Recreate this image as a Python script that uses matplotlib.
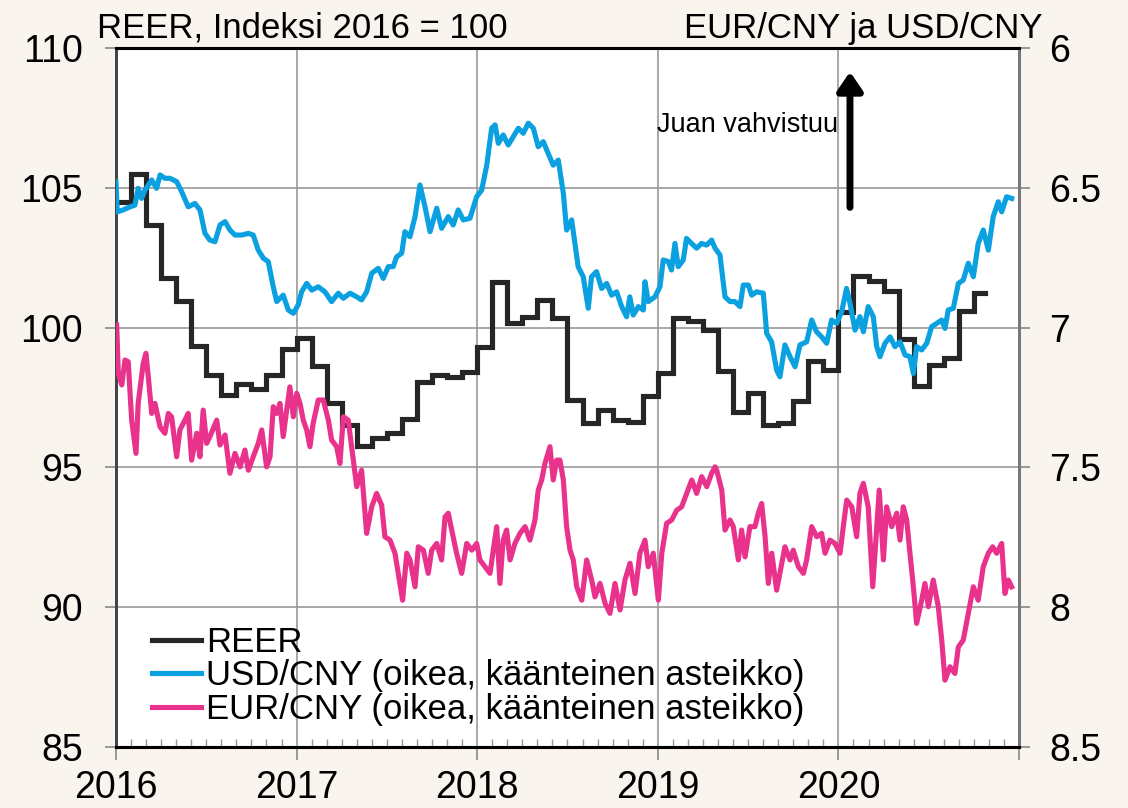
import numpy as np
import matplotlib
matplotlib.use('Agg')
import matplotlib.pyplot as plt

plt.rcParams['font.family'] = ['Liberation Sans', 'DejaVu Sans']

# REER, monthly, Jan 2016 .. Oct 2020 (index 2016 = 100)
reer = [104.5, 105.5, 103.67, 101.77, 100.96, 99.34, 98.30, 97.59, 97.98, 97.80, 98.30, 99.23,
        99.63, 98.64, 97.30, 96.52, 95.77, 96.05, 96.23, 96.73, 98.07, 98.30, 98.24, 98.41,
        99.32, 101.64, 100.15, 100.39, 100.99, 100.33, 97.41, 96.58, 97.07, 96.70, 96.64, 97.55,
        98.36, 100.33, 100.25, 99.91, 98.46, 96.99, 97.65, 96.52, 96.60, 97.38, 98.82, 98.48,
        100.57, 101.85, 101.68, 101.31, 99.58, 97.91, 98.66, 98.90, 100.59, 101.25]
reer_end = 2020.812

# USD/CNY (time in decimal years)
usd_t = [2016.000, 2016.007, 2016.040, 2016.078, 2016.105, 2016.123, 2016.142, 2016.161, 2016.198, 2016.225,
         2016.244, 2016.271, 2016.299, 2016.336, 2016.364, 2016.400, 2016.437, 2016.465, 2016.493, 2016.520,
         2016.548, 2016.576, 2016.604, 2016.631, 2016.659, 2016.696, 2016.733, 2016.760, 2016.788, 2016.816,
         2016.843, 2016.871, 2016.890, 2016.926, 2016.954, 2016.982, 2017.009, 2017.028, 2017.056, 2017.084,
         2017.120, 2017.157, 2017.194, 2017.231, 2017.259, 2017.296, 2017.333, 2017.360, 2017.388, 2017.416,
         2017.452, 2017.480, 2017.508, 2017.535, 2017.554, 2017.582, 2017.600, 2017.628, 2017.656, 2017.683,
         2017.711, 2017.739, 2017.776, 2017.803, 2017.840, 2017.867, 2017.895, 2017.923, 2017.960, 2017.997,
         2018.025, 2018.053, 2018.080, 2018.099, 2018.117, 2018.144, 2018.172, 2018.200, 2018.228, 2018.255,
         2018.283, 2018.311, 2018.338, 2018.366, 2018.393, 2018.421, 2018.449, 2018.477, 2018.495, 2018.523,
         2018.541, 2018.559, 2018.587, 2018.615, 2018.633, 2018.661, 2018.689, 2018.717, 2018.744, 2018.772,
         2018.800, 2018.827, 2018.845, 2018.864, 2018.892, 2018.920, 2018.929, 2018.947, 2018.984, 2019.012,
         2019.030, 2019.058, 2019.076, 2019.095, 2019.113, 2019.141, 2019.159, 2019.187, 2019.215, 2019.242,
         2019.270, 2019.298, 2019.317, 2019.344, 2019.372, 2019.400, 2019.427, 2019.455, 2019.473, 2019.501,
         2019.520, 2019.547, 2019.584, 2019.603, 2019.630, 2019.658, 2019.676, 2019.704, 2019.732, 2019.760,
         2019.787, 2019.824, 2019.852, 2019.879, 2019.907, 2019.935, 2019.962, 2019.990, 2020.018, 2020.045,
         2020.064, 2020.092, 2020.119, 2020.138, 2020.165, 2020.193, 2020.212, 2020.230, 2020.258, 2020.286,
         2020.313, 2020.341, 2020.369, 2020.396, 2020.415, 2020.433, 2020.461, 2020.489, 2020.516, 2020.544,
         2020.572, 2020.590, 2020.608, 2020.636, 2020.664, 2020.691, 2020.719, 2020.747, 2020.774, 2020.802,
         2020.830, 2020.857, 2020.885, 2020.904, 2020.931, 2020.959]
usd = [6.478, 6.586, 6.579, 6.568, 6.562, 6.502, 6.538, 6.508, 6.472, 6.502,
       6.454, 6.466, 6.466, 6.478, 6.514, 6.568, 6.556, 6.579, 6.663, 6.687,
       6.693, 6.633, 6.621, 6.651, 6.669, 6.669, 6.663, 6.669, 6.723, 6.752,
       6.764, 6.854, 6.907, 6.884, 6.937, 6.949, 6.919, 6.872, 6.842, 6.866,
       6.854, 6.872, 6.907, 6.877, 6.895, 6.877, 6.890, 6.901, 6.872, 6.806,
       6.788, 6.824, 6.782, 6.782, 6.747, 6.734, 6.657, 6.675, 6.603, 6.490,
       6.568, 6.657, 6.573, 6.645, 6.603, 6.633, 6.579, 6.615, 6.609, 6.532,
       6.508, 6.419, 6.287, 6.275, 6.341, 6.311, 6.347, 6.317, 6.287, 6.305,
       6.269, 6.287, 6.353, 6.335, 6.377, 6.419, 6.401, 6.520, 6.651, 6.615,
       6.699, 6.782, 6.818, 6.931, 6.818, 6.800, 6.860, 6.842, 6.884, 6.872,
       6.925, 6.961, 6.890, 6.955, 6.925, 6.937, 6.836, 6.907, 6.890, 6.854,
       6.758, 6.764, 6.794, 6.699, 6.782, 6.758, 6.681, 6.699, 6.716, 6.699,
       6.705, 6.687, 6.716, 6.740, 6.890, 6.907, 6.907, 6.925, 6.848, 6.848,
       6.884, 6.872, 6.877, 7.021, 7.051, 7.152, 7.176, 7.062, 7.104, 7.140,
       7.062, 7.051, 6.973, 7.015, 7.033, 7.056, 6.973, 6.985, 6.943, 6.860,
       6.913, 7.009, 6.961, 7.015, 6.925, 6.961, 7.068, 7.104, 7.056, 7.033,
       7.068, 7.051, 7.098, 7.104, 7.164, 7.068, 7.080, 7.056, 6.997, 6.985,
       6.973, 7.003, 6.937, 6.931, 6.842, 6.830, 6.770, 6.818, 6.699, 6.651,
       6.723, 6.603, 6.550, 6.586, 6.532, 6.538]

# EUR/CNY
eur_t = [2016.004, 2016.013, 2016.032, 2016.050, 2016.068, 2016.087, 2016.111, 2016.123, 2016.151, 2016.166,
         2016.179, 2016.198, 2016.216, 2016.244, 2016.271, 2016.290, 2016.308, 2016.336, 2016.354, 2016.382,
         2016.400, 2016.419, 2016.447, 2016.465, 2016.483, 2016.502, 2016.520, 2016.558, 2016.576, 2016.604,
         2016.631, 2016.659, 2016.687, 2016.714, 2016.733, 2016.760, 2016.788, 2016.807, 2016.834, 2016.853,
         2016.871, 2016.890, 2016.908, 2016.926, 2016.945, 2016.963, 2016.982, 2017.001, 2017.019, 2017.037,
         2017.056, 2017.074, 2017.092, 2017.120, 2017.148, 2017.176, 2017.194, 2017.222, 2017.240, 2017.259,
         2017.286, 2017.314, 2017.333, 2017.360, 2017.388, 2017.416, 2017.443, 2017.471, 2017.489, 2017.517,
         2017.545, 2017.563, 2017.587, 2017.610, 2017.628, 2017.656, 2017.674, 2017.702, 2017.729, 2017.748,
         2017.776, 2017.803, 2017.822, 2017.840, 2017.859, 2017.886, 2017.914, 2017.942, 2017.970, 2017.997,
         2018.015, 2018.043, 2018.071, 2018.089, 2018.108, 2018.126, 2018.144, 2018.163, 2018.182, 2018.209,
         2018.237, 2018.265, 2018.292, 2018.320, 2018.338, 2018.357, 2018.375, 2018.403, 2018.421, 2018.440,
         2018.458, 2018.477, 2018.495, 2018.514, 2018.532, 2018.551, 2018.579, 2018.606, 2018.634, 2018.652,
         2018.680, 2018.708, 2018.735, 2018.763, 2018.791, 2018.818, 2018.846, 2018.874, 2018.901, 2018.929,
         2018.947, 2018.975, 2019.003, 2019.022, 2019.049, 2019.077, 2019.105, 2019.132, 2019.160, 2019.188,
         2019.215, 2019.243, 2019.271, 2019.298, 2019.317, 2019.326, 2019.354, 2019.372, 2019.400, 2019.418,
         2019.446, 2019.464, 2019.483, 2019.510, 2019.538, 2019.556, 2019.575, 2019.594, 2019.612, 2019.631,
         2019.658, 2019.676, 2019.704, 2019.732, 2019.750, 2019.778, 2019.806, 2019.824, 2019.852, 2019.880,
         2019.907, 2019.926, 2019.953, 2019.981, 2020.009, 2020.027, 2020.046, 2020.074, 2020.101, 2020.119,
         2020.138, 2020.165, 2020.190, 2020.212, 2020.226, 2020.249, 2020.267, 2020.295, 2020.323, 2020.341,
         2020.359, 2020.378, 2020.396, 2020.415, 2020.433, 2020.461, 2020.479, 2020.498, 2020.525, 2020.553,
         2020.572, 2020.590, 2020.618, 2020.645, 2020.664, 2020.691, 2020.719, 2020.747, 2020.774, 2020.802,
         2020.830, 2020.854, 2020.876, 2020.904, 2020.922, 2020.941, 2020.959]
eur = [6.991, 7.164, 7.205, 7.116, 7.122, 7.331, 7.450, 7.271, 7.128, 7.092,
       7.176, 7.307, 7.271, 7.355, 7.378, 7.307, 7.319, 7.462, 7.366, 7.331,
       7.307, 7.474, 7.378, 7.462, 7.295, 7.414, 7.390, 7.331, 7.420, 7.384,
       7.521, 7.450, 7.498, 7.438, 7.510, 7.462, 7.414, 7.366, 7.498, 7.462,
       7.283, 7.307, 7.271, 7.390, 7.295, 7.212, 7.319, 7.235, 7.271, 7.331,
       7.366, 7.426, 7.342, 7.259, 7.259, 7.331, 7.402, 7.426, 7.486, 7.319,
       7.331, 7.474, 7.569, 7.510, 7.736, 7.641, 7.593, 7.635, 7.748, 7.760,
       7.807, 7.879, 7.975, 7.807, 7.831, 7.927, 7.784, 7.796, 7.879, 7.796,
       7.772, 7.831, 7.677, 7.664, 7.724, 7.807, 7.879, 7.772, 7.796, 7.772,
       7.831, 7.855, 7.879, 7.796, 7.712, 7.915, 7.760, 7.724, 7.831, 7.772,
       7.736, 7.712, 7.760, 7.688, 7.581, 7.545, 7.486, 7.426, 7.545, 7.474,
       7.474, 7.545, 7.712, 7.796, 7.831, 7.927, 7.975, 7.831, 7.903, 7.963,
       7.915, 7.986, 8.022, 7.915, 8.010, 7.903, 7.843, 7.951, 7.807, 7.760,
       7.855, 7.807, 7.975, 7.807, 7.700, 7.688, 7.653, 7.641, 7.593, 7.545,
       7.593, 7.533, 7.569, 7.521, 7.498, 7.510, 7.581, 7.724, 7.688, 7.712,
       7.831, 7.724, 7.820, 7.712, 7.712, 7.664, 7.629, 7.748, 7.915, 7.807,
       7.939, 7.879, 7.784, 7.831, 7.796, 7.855, 7.879, 7.831, 7.712, 7.748,
       7.736, 7.807, 7.760, 7.772, 7.807, 7.712, 7.617, 7.641, 7.748, 7.593,
       7.557, 7.641, 7.927, 7.712, 7.581, 7.831, 7.641, 7.712, 7.664, 7.760,
       7.641, 7.688, 7.807, 7.927, 8.058, 7.975, 7.915, 7.998, 7.903, 7.998,
       8.118, 8.261, 8.213, 8.237, 8.142, 8.118, 8.022, 7.927, 7.975, 7.855,
       7.807, 7.784, 7.807, 7.772, 7.951, 7.903, 7.927]

# step positions for REER (month starts) + end of last month shown
reer_t = [2016 + i / 12 for i in range(len(reer))] + [reer_end]
reer_y = reer + [reer[-1]]

bg = '#f9f4ee'
textsize = 27
fig = plt.figure(figsize=(11.28, 8.08), dpi=100, facecolor=bg)
ax1 = fig.add_axes([0.1028, 0.0755, 0.8006, 0.8651])
ax1.set_facecolor('white')
ax2 = ax1.twinx()

ax1.set_xlim(2016, 2021)
ax1.set_ylim(85, 110)
ax2.set_ylim(8.5, 6)

ax1.set_xticks(range(2016, 2022))
ax1.set_xticklabels(['2016', '2017', '2018', '2019', '2020', ''])
ax1.set_xticks([2016 + m / 12 for m in range(61)], minor=True)
ax1.set_yticks(range(85, 111, 5))
ax2.set_yticks([6, 6.5, 7, 7.5, 8, 8.5])
ax2.set_yticklabels(['6', '6.5', '7', '7.5', '8', '8.5'])

# grid
for yr in range(2017, 2021):
    ax1.axvline(yr, color='#9a9a9a', lw=1.2, zorder=0)
for v in [90, 95, 100, 105]:
    ax1.axhline(v, color='#9a9a9a', lw=1.2, zorder=0)

ln1, = ax1.plot(reer_t, reer_y, color='#262626', lw=3.7, drawstyle='steps-post',
                solid_joinstyle='miter', label='REER', zorder=3)
ln2, = ax2.plot(usd_t, usd, color='#0ba0e0', lw=3.7,
                label='USD/CNY (oikea, käänteinen asteikko)', zorder=3)
ln3, = ax2.plot(eur_t, eur, color='#e8328b', lw=3.7,
                label='EUR/CNY (oikea, käänteinen asteikko)', zorder=3)

# spines and ticks
for a in (ax1, ax2):
    a.spines['top'].set_color('black')
    a.spines['top'].set_linewidth(2.2)
    a.spines['bottom'].set_color('black')
    a.spines['bottom'].set_linewidth(2.2)
    a.spines['left'].set_color('#444444')
    a.spines['left'].set_linewidth(2)
    a.spines['right'].set_color('#777777')
    a.spines['right'].set_linewidth(2)

ax1.tick_params(axis='x', which='major', direction='out', length=9.5, width=1.2,
                color='#888888', labelsize=textsize, pad=7)
ax1.tick_params(axis='x', which='minor', direction='in', length=6, width=1,
                color='#999999')
ax1.tick_params(axis='y', direction='out', length=8, width=1.2, color='#888888',
                labelsize=textsize, pad=16)
ax2.tick_params(axis='y', direction='out', length=8, width=1.2, color='#888888',
                labelsize=textsize, pad=14)

# arrow + note
ax1.annotate('', xy=(2020.064, 109.15), xytext=(2020.064, 104.3),
             arrowprops=dict(arrowstyle='-|>,head_width=0.75,head_length=1.1',
                             color='black', lw=5, shrinkA=0, shrinkB=0), zorder=4)
ax1.text(2019.998, 107.25, 'Juan vahvistuu', ha='right', va='center', fontsize=19.5)

# header texts
fig.text(0.086, 0.953, 'REER, Indeksi 2016 = 100', fontsize=25, ha='left', va='baseline')
fig.text(0.9246, 0.953, 'EUR/CNY ja USD/CNY', fontsize=25, ha='right', va='baseline')

ax1.legend(handles=[ln1, ln2, ln3], loc='lower left', bbox_to_anchor=(0.025, 0.01),
           frameon=False, fontsize=25, handlelength=1.4, handletextpad=0.15,
           labelspacing=0.02, borderaxespad=0)

plt.savefig('out.png', dpi=100, facecolor=bg)
